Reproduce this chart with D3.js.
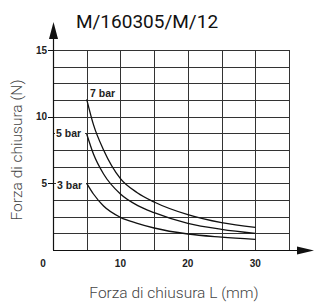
<!DOCTYPE html>
<html lang="en">
  <head>
    <meta charset="UTF-8">
    <script type="text/javascript" src="https://cdn.jsdelivr.net/npm/d3@7"></script>
    <title>M/160305/M/12</title>
    <style>
      body { margin: 0; background: #fff; }
    </style>
  </head>
  <body>
    <script type="text/javascript">
      let w = 315;
      let h = 304;

      // Data
      let strokeL = [5, 6, 7.5, 10, 12.5, 15, 20, 25, 30];
      let bar7 = [11.3, 9.4, 7.5, 5.35, 4.3, 3.6, 2.65, 2.05, 1.7];
      let bar5 = [8.7, 7.2, 5.7, 4.2, 3.35, 2.8, 2.0, 1.55, 1.25];
      let bar3 = [5.0, 4.2, 3.3, 2.45, 2.0, 1.65, 1.2, 0.97, 0.8];
      let seriesNames = ['7 bar', '5 bar', '3 bar'];
      let xTicks = [0, 10, 20, 30];
      let yTicks = [5, 10, 15];

      let xScale = d3.scaleLinear().domain([0, 35]).range([53, 289]);
      let yScale = d3.scaleLinear().domain([0, 15]).range([250, 50]);

      let svg = d3.select('body')
                  .append('svg')
                  .attr('width', w)
                  .attr('height', h);

      // Grid
      let grid = svg.append('g').attr('stroke', '#333').attr('stroke-width', 1);
      grid.selectAll('.gx')
          .data(d3.range(5, 36, 5))
          .enter()
          .append('line')
          .attr('x1', d => Math.round(xScale(d)) + 0.5)
          .attr('x2', d => Math.round(xScale(d)) + 0.5)
          .attr('y1', yScale(15))
          .attr('y2', yScale(0));
      grid.selectAll('.gy')
          .data(d3.range(1.25, 15.01, 1.25))
          .enter()
          .append('line')
          .attr('x1', xScale(0))
          .attr('x2', xScale(35))
          .attr('y1', d => Math.round(yScale(d)) + 0.5)
          .attr('y2', d => Math.round(yScale(d)) + 0.5);

      // Axes with arrows
      svg.append('line')
          .attr('x1', xScale(0) + 0.5).attr('x2', xScale(0) + 0.5)
          .attr('y1', yScale(0)).attr('y2', 36)
          .attr('stroke', '#111').attr('stroke-width', 1.2);
      svg.append('path')
          .attr('d', `M${xScale(0) + 0.5},22 L${xScale(0) - 4},39 L${xScale(0) + 5},39 Z`)
          .attr('fill', '#111');
      svg.append('line')
          .attr('x1', xScale(0)).attr('x2', 298)
          .attr('y1', yScale(0) + 0.5).attr('y2', yScale(0) + 0.5)
          .attr('stroke', '#111').attr('stroke-width', 1.2);
      svg.append('path')
          .attr('d', `M314,${yScale(0) + 0.5} L297,${yScale(0) - 3.5} L297,${yScale(0) + 4.5} Z`)
          .attr('fill', '#111');

      // Y ticks
      svg.selectAll('.ytick')
          .data(yTicks)
          .enter()
          .append('line')
          .attr('x1', xScale(0) - 5).attr('x2', xScale(0))
          .attr('y1', d => Math.round(yScale(d)) + 0.5)
          .attr('y2', d => Math.round(yScale(d)) + 0.5)
          .attr('stroke', '#111');
      svg.selectAll('.ylab')
          .data(yTicks)
          .enter()
          .append('text')
          .text(d => d)
          .attr('x', xScale(0) - 6)
          .attr('y', d => yScale(d) + 3.5)
          .attr('text-anchor', 'end')
          .attr('font-family', 'Liberation Sans, Arial, sans-serif')
          .attr('font-weight', 'bold')
          .attr('font-size', '10px')
          .attr('fill', '#222');
      svg.selectAll('.xlab')
          .data(xTicks)
          .enter()
          .append('text')
          .text(d => d)
          .attr('x', d => d === 0 ? xScale(0) - 10 : xScale(d))
          .attr('y', 267)
          .attr('text-anchor', 'middle')
          .attr('font-family', 'Liberation Sans, Arial, sans-serif')
          .attr('font-weight', 'bold')
          .attr('font-size', '10px')
          .attr('fill', '#222');

      // Curves
      let line = d3.line()
                   .x(d => xScale(d[0]))
                   .y(d => yScale(d[1]))
                   .curve(d3.curveMonotoneX);
      let series = [bar7, bar5, bar3];
      svg.selectAll('.curve')
          .data(series)
          .enter()
          .append('path')
          .attr('d', s => line(strokeL.map((x, i) => [x, s[i]])))
          .attr('fill', 'none')
          .attr('stroke', '#111')
          .attr('stroke-width', 1.3);

      // Series labels
      let labelPos = [[90, 97, false], [56, 137, true], [57, 189, true]];
      seriesNames.forEach((name, i) => {
        let [lx, ly, bg] = labelPos[i];
        if (bg) {
          svg.append('rect')
              .attr('x', lx - 1).attr('y', ly - 9)
              .attr('width', 30).attr('height', 11)
              .attr('fill', '#fff');
        }
        svg.append('text')
            .text(name)
            .attr('x', lx)
            .attr('y', ly)
            .attr('font-family', 'Liberation Sans, Arial, sans-serif')
            .attr('font-weight', 'bold')
            .attr('font-size', '10.5px')
            .attr('fill', '#222');
      });

      // Title and axis titles
      svg.append('text')
          .text('M/160305/M/12')
          .attr('x', 147)
          .attr('y', 28)
          .attr('text-anchor', 'middle')
          .attr('font-family', 'Roboto, sans-serif')
          .attr('font-size', '19px')
          .attr('fill', '#111');
      svg.append('text')
          .text('Forza di chiusura L (mm)')
          .attr('x', 174)
          .attr('y', 298)
          .attr('text-anchor', 'middle')
          .attr('font-family', 'Roboto, sans-serif')
          .attr('font-weight', 300)
          .attr('font-size', '15.5px')
          .attr('fill', '#444');
      svg.append('text')
          .text('Forza di chiusura (N)')
          .attr('transform', 'translate(22,150) rotate(-90)')
          .attr('text-anchor', 'middle')
          .attr('font-family', 'Roboto, sans-serif')
          .attr('font-weight', 300)
          .attr('font-size', '15.5px')
          .attr('fill', '#444');
    </script>
  </body>
</html>
